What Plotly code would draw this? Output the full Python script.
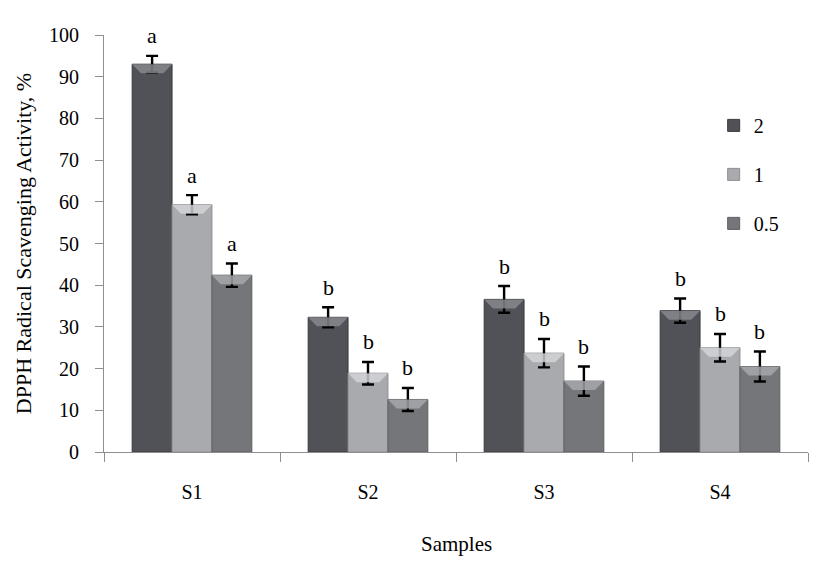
import plotly.graph_objects as go

categories = ["S1", "S2", "S3", "S4"]
series_names = ["2", "1", "0.5"]
values_2 = [93.0, 32.3, 36.6, 33.9]
values_1 = [59.3, 18.9, 23.7, 25.0]
values_05 = [42.4, 12.6, 17.0, 20.5]
err_2 = [2.0, 2.4, 3.2, 2.9]
err_1 = [2.3, 2.7, 3.4, 3.3]
err_05 = [2.8, 2.75, 3.5, 3.6]
letters_2 = ["a", "b", "b", "b"]
letters_1 = ["a", "b", "b", "b"]
letters_05 = ["a", "b", "b", "b"]

FONT = "Liberation Serif"
colors = ["#505257", "#a8aaad", "#74767a"]
edge = ["#3a3b3f", "#8c8e91", "#5c5e62"]
bevel = ["#8a8c90", "#d6d7d9", "#a9abae"]

vals = [values_2, values_1, values_05]
errs = [err_2, err_1, err_05]
lets = [letters_2, letters_1, letters_05]

bargap = 0.32
bw = (1 - bargap) / 3
offsets = [-bw, 0.0, bw]

fig = go.Figure()
for k in range(3):
    fig.add_trace(go.Bar(
        x=categories, y=vals[k], name=series_names[k],
        legendgroup=series_names[k],
        marker=dict(color=colors[k], line=dict(color=edge[k], width=1)),
        error_y=dict(type="data", array=errs[k], visible=True,
                     color="black", thickness=2.4, width=6),
    ))

shapes = []
annotations = []
px_per_unit = 417 / 100.0
bevel_units = 9 / px_per_unit
inset = bw * 0.22
for k in range(3):
    for i, c in enumerate(categories):
        xc = i + offsets[k]
        x0, x1 = xc - bw / 2, xc + bw / 2
        top = vals[k][i]
        bot = top - bevel_units
        shapes.append(dict(
            type="path", xref="x", yref="y", layer="above",
            path=f"M {x0},{top} L {x1},{top} L {x1 - inset},{bot} L {x0 + inset},{bot} Z",
            fillcolor=bevel[k], line=dict(width=0), opacity=0.8))
        annotations.append(dict(
            x=xc, y=top + errs[k][i], xref="x", yref="y",
            text=lets[k][i], showarrow=False, yanchor="middle", yshift=20,
            font=dict(family=FONT, size=22, color="black")))

annotations.append(dict(x=0.5, y=-0.22, xref="paper", yref="paper",
                        text="Samples", showarrow=False, yanchor="middle",
                        font=dict(family=FONT, size=21, color="black")))

fig.update_layout(
    width=822, height=566,
    margin=dict(l=104, r=14, t=35, b=114, autoexpand=False),
    paper_bgcolor="white", plot_bgcolor="white",
    barmode="group", bargap=bargap, bargroupgap=0,
    font=dict(family=FONT, size=20, color="black"),
    shapes=shapes, annotations=annotations,
    legend=dict(x=0.866, y=0.83, xanchor="left", yanchor="top",
                tracegroupgap=20, font=dict(family=FONT, size=20),
                bgcolor="rgba(0,0,0,0)"),
    showlegend=True,
)
fig.update_xaxes(
    type="category", range=[-0.5, 3.5], automargin=False,
    showline=True, linecolor="#8f8f8f", linewidth=1,
    ticks="outside", tickson="boundaries", ticklen=9, tickcolor="#8f8f8f",
    ticklabelstandoff=22,
    tickfont=dict(family=FONT, size=20), showgrid=False, zeroline=False,
)
fig.update_yaxes(
    range=[0, 100], dtick=10, automargin=False,
    showline=True, linecolor="#8f8f8f", linewidth=1,
    ticks="outside", ticklen=8, tickcolor="#8f8f8f",
    ticklabelstandoff=12,
    tickfont=dict(family=FONT, size=20), showgrid=False, zeroline=False,
    title=dict(text="DPPH Radical Scavenging Activity, %",
               font=dict(family=FONT, size=22), standoff=11),
)
fig.write_html("out.html", config={"displayModeBar": False},
               post_script="document.body.style.margin='0';")
